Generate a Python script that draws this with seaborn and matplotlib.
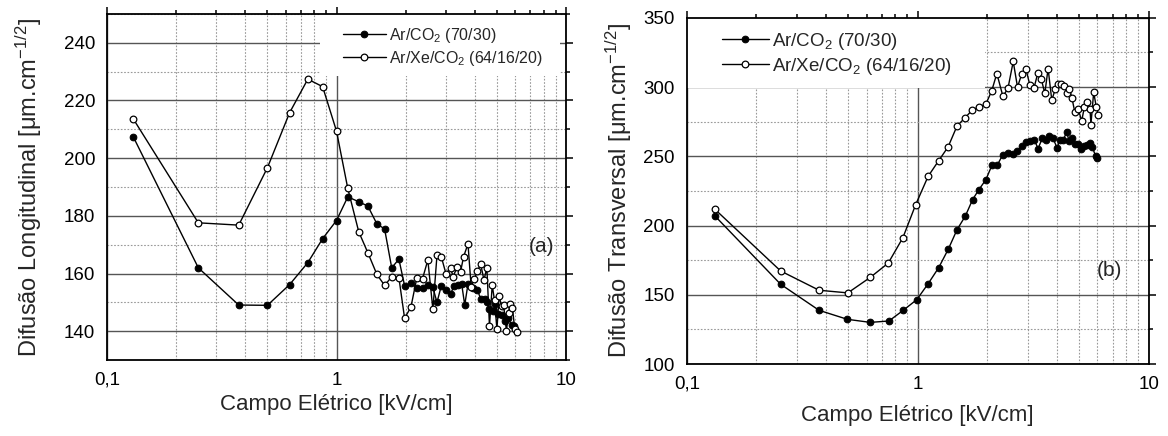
import numpy as np
import matplotlib
matplotlib.use("Agg")
import matplotlib.pyplot as plt
import matplotlib.ticker as mticker
from matplotlib.patches import Rectangle
import seaborn as sns

# (a) difusão longitudinal
la_x_co2 = [0.13, 0.25, 0.375, 0.5, 0.625, 0.75, 0.87, 1.0, 1.12, 1.25, 1.37, 1.5, 1.62, 1.74, 1.87,
            1.98, 2.11, 2.24, 2.37, 2.5, 2.63, 2.74, 2.86, 3.0, 3.14, 3.25, 3.39, 3.51, 3.62, 3.74,
            3.93, 4.11, 4.25, 4.42, 4.52, 4.64, 4.79, 4.92, 5.06, 5.24, 5.42, 5.58, 5.81, 5.92]
la_y_co2 = [207.5, 162, 149.1, 149, 156.2, 163.8, 172.1, 178.4, 186.6, 184.9, 183.4, 177.2, 175.5, 162, 165,
            155.8, 156.6, 155.1, 155.1, 155.9, 155.2, 150, 155.7, 154.4, 152.9, 155.7, 156.1, 156.4, 149.1, 156.4,
            155.1, 154.2, 151.3, 151.1, 150, 147.6, 147, 149.3, 145.9, 145.6, 143.6, 144.5, 142.1, 141.8]
la_x_xe = [0.13, 0.25, 0.375, 0.5, 0.625, 0.75, 0.87, 1.0, 1.12, 1.25, 1.37, 1.5, 1.62, 1.74, 1.87,
           1.98, 2.11, 2.24, 2.37, 2.5, 2.63, 2.74, 2.86, 3.0, 3.14, 3.22, 3.36, 3.47, 3.58, 3.74,
           3.86, 3.98, 4.11, 4.25, 4.39, 4.52, 4.64, 4.77, 4.88, 5.0, 5.11, 5.24, 5.35, 5.5, 5.62,
           5.7, 5.84, 5.98, 6.1]
la_y_xe = [213.7, 177.6, 176.8, 196.7, 215.8, 227.4, 224.8, 209.4, 189.5, 174.5, 167.2, 159.7, 155.9, 158.9, 158.6,
           144.5, 148.4, 158.6, 158.2, 164.7, 147.6, 166.3, 165.9, 159.9, 162.1, 158.9, 162.4, 160.6, 165.9, 170.3,
           155.5, 158, 160.9, 163.2, 157.8, 162, 141.8, 156, 150.7, 140.7, 152.2, 148.8, 149, 140.2, 146.2,
           149.3, 148.2, 140.7, 139.8]

# (b) difusão transversal
rb_x_co2 = [0.1325, 0.255, 0.374, 0.496, 0.623, 0.75, 0.865, 0.99, 1.11, 1.232, 1.357, 1.48, 1.607, 1.728,
            1.84, 1.973, 2.095, 2.208, 2.328, 2.457, 2.59, 2.695, 2.83, 2.947, 3.066, 3.19, 3.32, 3.455,
            3.585, 3.715, 3.855, 4.01, 4.12, 4.257, 4.417, 4.519, 4.67, 4.797, 4.957, 5.077, 5.246, 5.42,
            5.55, 5.696, 5.89, 6.0]
rb_y_co2 = [206.9, 157.6, 138.8, 132.3, 130.1, 131.1, 138.8, 146.5, 158.1, 169.6, 183.1, 197.1, 206.9, 218.8,
            226.0, 233.2, 243.6, 243.6, 250.8, 252.5, 251.5, 253.7, 257.8, 260.4, 260.9, 262.1, 255.6, 262.9,
            262.1, 264.5, 262.9, 256.1, 261.6, 261.6, 267.6, 260.9, 263.6, 259.2, 259.2, 255.6, 257.3, 258.0,
            259.7, 256.8, 250.1, 249]
rb_x_xe = [0.1325, 0.255, 0.374, 0.498, 0.623, 0.745, 0.862, 0.98, 1.109, 1.23, 1.353, 1.48, 1.60, 1.72,
           1.84, 1.97, 2.09, 2.20, 2.337, 2.457, 2.59, 2.703, 2.824, 2.938, 3.057, 3.182, 3.311, 3.431,
           3.548, 3.667, 3.805, 3.933, 4.064, 4.187, 4.30, 4.417, 4.533, 4.656, 4.783, 4.943, 5.127, 5.26,
           5.42, 5.567, 5.62, 5.776, 5.928, 6.05]
rb_y_xe = [211.7, 167.2, 153.3, 151.4, 162.6, 172.9, 191.2, 215.2, 235.6, 246.7, 256.8, 272.0, 277.7, 283.4,
           285.7, 287.6, 297.3, 309.8, 293.4, 299.0, 318.5, 300.1, 309.8, 313.4, 301.4, 299.0, 310.3, 305.5,
           295.4, 313.4, 290.5, 298.3, 302.6, 302.6, 300.9, 295.8, 298.5, 291.8, 282.1, 284.5, 275.6, 285.3,
           289.3, 284.5, 273.0, 296.3, 285.7, 280.0]

lbl_co2 = "Ar/CO$_2$ (70/30)"
lbl_xe = "Ar/Xe/CO$_2$ (64/16/20)"

sns.set_style("white")
plt.rcParams["font.family"] = ["Liberation Sans", "DejaVu Sans"]
plt.rcParams["mathtext.fontset"] = "custom"
plt.rcParams["mathtext.rm"] = "Liberation Sans"
plt.rcParams["mathtext.it"] = "Liberation Sans:italic"
plt.rcParams["mathtext.default"] = "regular"

fig = plt.figure(figsize=(11.68, 4.36), dpi=100)
ax1 = fig.add_axes([0.0916, 0.174, 0.393, 0.794])
ax2 = fig.add_axes([0.588, 0.165, 0.3955, 0.794])


def desenha(ax, xs1, ys1, xs2, ys2):
    sns.lineplot(x=xs1, y=ys1, ax=ax, color="black", lw=1, marker="o", markersize=4.8,
                 markerfacecolor="black", markeredgecolor="black", estimator=None, sort=False,
                 label=lbl_co2, zorder=3)
    sns.lineplot(x=xs2, y=ys2, ax=ax, color="black", lw=1, marker="o", markersize=4.8,
                 markerfacecolor="white", markeredgecolor="black", markeredgewidth=0.9,
                 estimator=None, sort=False, label=lbl_xe, zorder=3)


desenha(ax1, la_x_co2, la_y_co2, la_x_xe, la_y_xe)
desenha(ax2, rb_x_co2, rb_y_co2, rb_x_xe, rb_y_xe)

for ax in (ax1, ax2):
    ax.set_xscale("log")
    ax.set_xlim(0.1, 10)
    ax.xaxis.set_major_locator(mticker.FixedLocator([0.1, 1, 10]))
    ax.xaxis.set_major_formatter(mticker.FuncFormatter(lambda v, _: f"{v:g}".replace(".", ",")))
    ax.xaxis.set_minor_locator(mticker.LogLocator(base=10, subs=np.arange(2, 10)))
    ax.xaxis.set_minor_formatter(mticker.NullFormatter())
    ax.grid(which="major", color="#555555", lw=1, ls="-")
    ax.grid(which="minor", color="#999999", lw=0.8, ls=(0, (1.5, 1.5)))
    ax.set_axisbelow(True)
    for s in ax.spines.values():
        s.set_color("black")
        s.set_linewidth(1.3)
    ax.tick_params(which="both", direction="out", top=True, right=True, colors="black",
                   labelsize=13.5, width=1.1)
    ax.tick_params(which="major", length=5)
    ax.tick_params(which="minor", length=3)
    ax.set_xlabel("Campo Elétrico [kV/cm]", fontsize=16)

ax1.set_ylim(130, 250)
ax1.yaxis.set_major_locator(mticker.MultipleLocator(20))
ax1.yaxis.set_minor_locator(mticker.MultipleLocator(10))
ax1.set_yticks([140, 160, 180, 200, 220, 240])
ax1.set_ylabel("Difusão Longitudinal [μm.cm$^{-1/2}$]", fontsize=17, labelpad=14)
ax1.xaxis.labelpad = 4
ax1.text(0.947, 0.327, "(a)", transform=ax1.transAxes, fontsize=15, ha="center", va="center")

ax2.set_ylim(100, 350)
ax2.yaxis.set_major_locator(mticker.MultipleLocator(50))
ax2.yaxis.set_minor_locator(mticker.MultipleLocator(25))
ax2.set_ylabel("Difusão Transversal [μm.cm$^{-1/2}$]", fontsize=17, labelpad=7)
ax2.xaxis.labelpad = 9
ax2.text(0.915, 0.269, "(b)", transform=ax2.transAxes, fontsize=15, ha="center", va="center")

# fundo branco da legenda por cima da grelha
ax1.add_patch(Rectangle((0.464, 0.821), 0.523, 0.179, transform=ax1.transAxes,
                        facecolor="white", edgecolor="none", zorder=1))
ax2.add_patch(Rectangle((0.0, 0.798), 0.645, 0.202, transform=ax2.transAxes,
                        facecolor="white", edgecolor="none", zorder=1))

ax1.legend(loc="upper left", bbox_to_anchor=(0.514, 0.965), fontsize=11.5, frameon=False,
           borderpad=0, borderaxespad=0, handlelength=2.7, handletextpad=0.2, labelspacing=0.25)
ax2.legend(loc="upper left", bbox_to_anchor=(0.0758, 0.962), fontsize=13.5, frameon=False,
           borderpad=0, borderaxespad=0, handlelength=2.5, handletextpad=0.2, labelspacing=0.2)

fig.savefig("out.png", dpi=100)
